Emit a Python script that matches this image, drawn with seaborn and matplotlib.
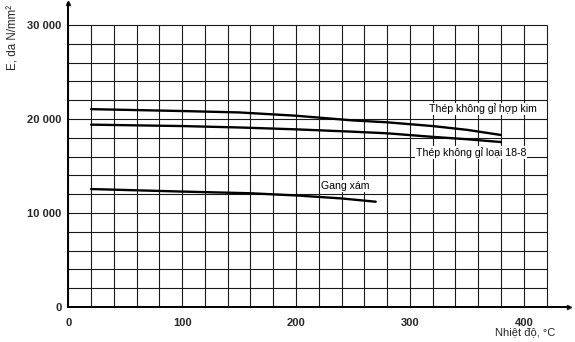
import matplotlib
matplotlib.use("Agg")
import matplotlib.pyplot as plt
import seaborn as sns
import numpy as np
import pandas as pd

# ---- data ----
alloy_x = [20, 100, 150, 200, 250, 280, 320, 350, 380]
alloy_y = [21050, 20850, 20700, 20350, 19850, 19650, 19250, 18850, 18300]
ss188_x = [20, 100, 150, 200, 250, 280, 320, 350, 380]
ss188_y = [19400, 19250, 19100, 18900, 18650, 18480, 18100, 17850, 17550]
cast_x = [20, 100, 160, 200, 240, 270]
cast_y = [12550, 12280, 12100, 11870, 11550, 11200]
series_names = ["Thép không gỉ hợp kim", "Thép không gỉ loại 18-8", "Gang xám"]
x_ticks = [0, 100, 200, 300, 400]
y_ticks = [0, 10000, 20000, 30000]
y_tick_labels = ["0", "10 000", "20 000", "30 000"]
x_label = "Nhiệt độ, °C"
y_label = "E, da N/mm²"

sns.set_theme(style="white")
plt.rcParams["font.family"] = ["Liberation Sans", "DejaVu Sans"]

df = pd.concat([
    pd.DataFrame({"T": alloy_x, "E": alloy_y, "s": series_names[0]}),
    pd.DataFrame({"T": ss188_x, "E": ss188_y, "s": series_names[1]}),
    pd.DataFrame({"T": cast_x, "E": cast_y, "s": series_names[2]}),
])

fig = plt.figure(figsize=(5.75, 3.42), dpi=100)
ax = fig.add_axes([68.3 / 575, 35 / 342, 501 / 575, 303.6 / 342])
ax.set_xlim(0, 440)
ax.set_ylim(0, 32300)

# grid
gx = np.arange(0, 421, 20)
gy = np.arange(0, 30001, 2000)
ax.vlines(gx, 0, 30000, color="#1a1a1a", lw=0.8, zorder=1)
ax.hlines(gy, 0, 420, color="#1a1a1a", lw=0.8, zorder=1)

sns.lineplot(data=df, x="T", y="E", units="s", estimator=None, color="black",
             lw=1.7, ax=ax, legend=False, zorder=3)

# labels on curves
lab_kw = dict(fontsize=7.6, color="black", va="center", ha="left", zorder=4,
              bbox=dict(facecolor="white", edgecolor="none", pad=0.6))
ax.text(317, 21060, series_names[0], **lab_kw)
ax.text(305, 16420, series_names[1], **lab_kw)
ax.text(222, 12870, series_names[2], **lab_kw)

# axes styling
for s in ["top", "right"]:
    ax.spines[s].set_visible(False)
for s in ["left", "bottom"]:
    ax.spines[s].set_color("black")
    ax.spines[s].set_linewidth(1.4)
ax.plot(1, 0, ">k", ms=3, transform=ax.transAxes, clip_on=False)
ax.plot(0, 1, "^k", ms=3, transform=ax.transAxes, clip_on=False)

ax.set_xticks(x_ticks)
ax.set_xticklabels([str(v) for v in x_ticks], fontweight="bold", fontsize=8)
ax.set_yticks(y_ticks)
ax.set_yticklabels(y_tick_labels, fontweight="bold", fontsize=8)
ax.tick_params(axis="both", length=0)
ax.tick_params(axis="x", pad=8)
ax.tick_params(axis="y", pad=5)
ax.set_xlabel("")
ax.set_ylabel("")

fig.text(555 / 575, 1 - 332 / 342, x_label, ha="right", va="center", fontsize=8)
fig.text(13 / 575, 1 - 37 / 342, y_label, rotation=90, ha="center", va="center", fontsize=8.3)

fig.savefig("out.png", dpi=100)
